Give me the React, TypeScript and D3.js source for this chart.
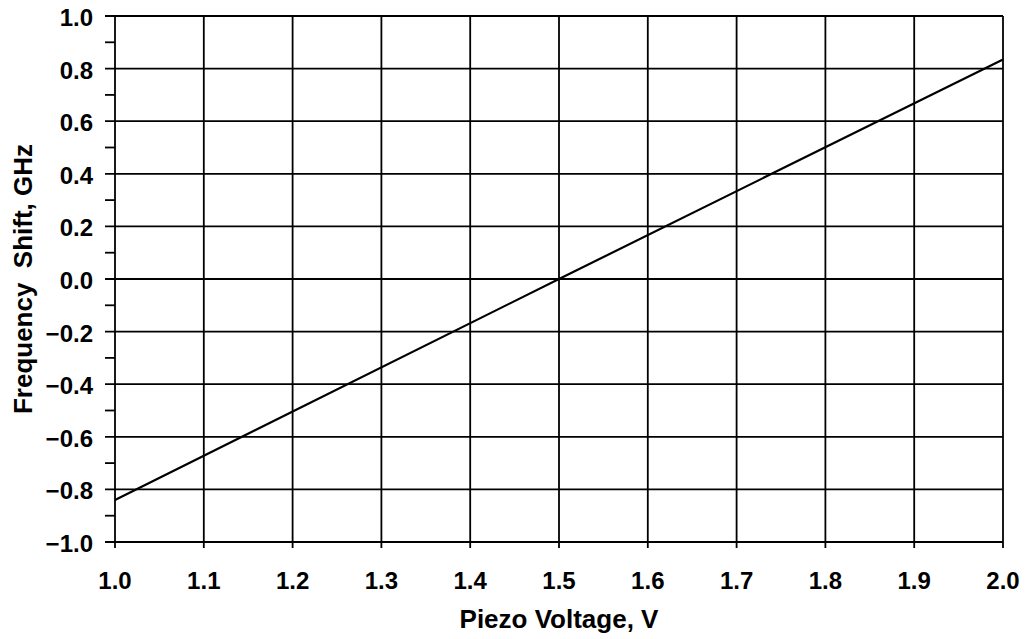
import React from 'react';
import * as d3 from 'd3';

// values
const voltage = [1.0, 1.5, 2.0];
const shift = [-0.84, 0.0, 0.835];
const xTicks = [1.0, 1.1, 1.2, 1.3, 1.4, 1.5, 1.6, 1.7, 1.8, 1.9, 2.0];
const yTicks = [-1.0, -0.8, -0.6, -0.4, -0.2, 0.0, 0.2, 0.4, 0.6, 0.8, 1.0];
const yMinorTicks = [-0.9, -0.7, -0.5, -0.3, -0.1, 0.1, 0.3, 0.5, 0.7, 0.9];

const W = 1029;
const H = 639;
const margin = { top: 16, right: 26, bottom: 97, left: 115 };

const fmt = (v: number) => (v < 0 ? '\u2212' : '') + Math.abs(v).toFixed(1);

const App = () => {
  const x = d3.scaleLinear().domain([1, 2]).range([margin.left, W - margin.right]);
  const y = d3.scaleLinear().domain([-1, 1]).range([H - margin.bottom, margin.top]);

  const line = d3.line<number>()
    .x((_, i) => x(voltage[i]))
    .y(d => y(d));

  const x0 = x.range()[0], x1 = x.range()[1];
  const y0 = y.range()[0], y1 = y.range()[1];
  const font = '"Liberation Sans", Arial, Helvetica, sans-serif';

  return (
    <svg width={W} height={H} style={{ position: 'absolute', left: 0, top: 0, background: '#fff' }}
      fontFamily={font} fontWeight="bold">
      {/* horizontal grid, extended left as ticks */}
      {yTicks.map(t => (
        <line key={'gy' + t} x1={x0 - 10} x2={x1} y1={y(t)} y2={y(t)} stroke="#000" strokeWidth={1.8} />
      ))}
      {yMinorTicks.map(t => (
        <line key={'my' + t} x1={x0 - 10} x2={x0} y1={y(t)} y2={y(t)} stroke="#000" strokeWidth={1.8} />
      ))}
      {/* vertical grid, extended below as ticks */}
      {xTicks.map(t => (
        <line key={'gx' + t} x1={x(t)} x2={x(t)} y1={y1} y2={y0 + 6} stroke="#000" strokeWidth={1.8} />
      ))}
      <path d={line(shift) || ''} fill="none" stroke="#000" strokeWidth={2.2} />
      {yTicks.map(t => (
        <text key={'ly' + t} x={x0 - 22} y={y(t) + 10} textAnchor="end" fontSize={24}>{fmt(t)}</text>
      ))}
      {xTicks.map(t => (
        <text key={'lx' + t} x={x(t)} y={y0 + 47} textAnchor="middle" fontSize={24}>{fmt(t)}</text>
      ))}
      <text x={(x0 + x1) / 2} y={628} textAnchor="middle" fontSize={26}>Piezo Voltage, V</text>
      <text transform={`translate(32,${(y0 + y1) / 2}) rotate(-90)`} textAnchor="middle" fontSize={26}
        style={{ whiteSpace: 'pre' }}>{'Frequency  Shift, GHz'}</text>
    </svg>
  );
};

export default App;
